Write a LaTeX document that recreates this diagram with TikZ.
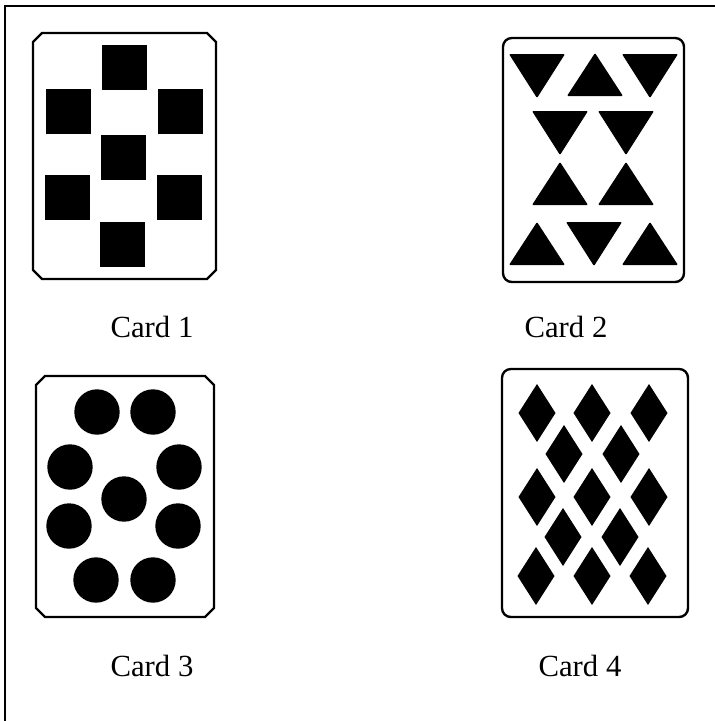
\documentclass[tikz,border=0pt]{standalone}
\usepackage{fontspec}
\setmainfont{Liberation Serif}
\usepackage{tikz}
\usetikzlibrary{calc}
\tikzset{
  card/frame/.style={line width=0.9pt},
  card/outline/.style={draw, line width=1.35pt},
  card/pip/.style={fill=black},
  card/label/.style={font=\fontsize{17.5}{20}\selectfont, anchor=base, inner sep=0pt}
}
\newcommand{\chamfercard}[4]{% x1,y1,x2,y2
  \draw[card/outline] (#1+9,#2) -- (#3-9,#2) -- (#3,#2+9) -- (#3,#4-9) -- (#3-9,#4)
    -- (#1+9,#4) -- (#1,#4-9) -- (#1,#2+9) -- cycle;}

\begin{document}
\begin{tikzpicture}[x=0.02cm, y=-0.02cm]
  \useasboundingbox (0,0) rectangle (715,721);
  % outer frame (only top and left visible)
  \draw[card/frame] (5,721) -- (5,6) -- (715,6);

  % card 1: squares
  \chamfercard{33}{33}{216}{279}
  \foreach \cx/\cy in {124/67, 68/111, 180/111, 123/157, 67/197, 179/197, 122/244}
    \fill[card/pip] (\cx-22.5,\cy-22.5) rectangle (\cx+22.5,\cy+22.5);

  % card 2: triangles
  \draw[card/outline, rounded corners=5pt] (503,38) rectangle (684,282);
  \foreach \cx/\top in {537/54, 650/54, 560/111, 626/111, 594/222}
    \fill[card/pip, rounded corners=0.6pt] (\cx-28,\top) -- (\cx+28,\top) -- (\cx,\top+44) -- cycle;
  \foreach \cx/\top in {595/53, 560/162, 626/162, 537/222, 650/222}
    \fill[card/pip, rounded corners=0.6pt] (\cx,\top) -- (\cx+28,\top+43) -- (\cx-28,\top+43) -- cycle;

  % card 3: circles
  \chamfercard{36}{376}{214}{617}
  \foreach \cx/\cy in {97/412, 153/412, 70/467, 179/467, 124/499, 69/526, 178/526, 96/580, 153/580}
    \fill[card/pip] (\cx,\cy) circle[radius=22.7];

  % card 4: diamonds
  \draw[card/outline, rounded corners=5pt] (502,369) rectangle (688,617);
  \foreach \cx/\cy in {537/413, 592/413, 649/413, 564/454, 621/454,
                       537/497, 592/497, 649/497, 563/537, 620/537,
                       536/576, 592/576, 648/576}
    \fill[card/pip] (\cx,\cy-29) -- (\cx+18.5,\cy) -- (\cx,\cy+29) -- (\cx-18.5,\cy) -- cycle;

  % labels
  \node[card/label] (lab1) at (152,337) {Card 1};
  \node[card/label] (lab2) at (566,337) {Card 2};
  \node[card/label] (lab3) at (152,676) {Card 3};
  \node[card/label] (lab4) at (580,676) {Card 4};
\end{tikzpicture}
\end{document}
